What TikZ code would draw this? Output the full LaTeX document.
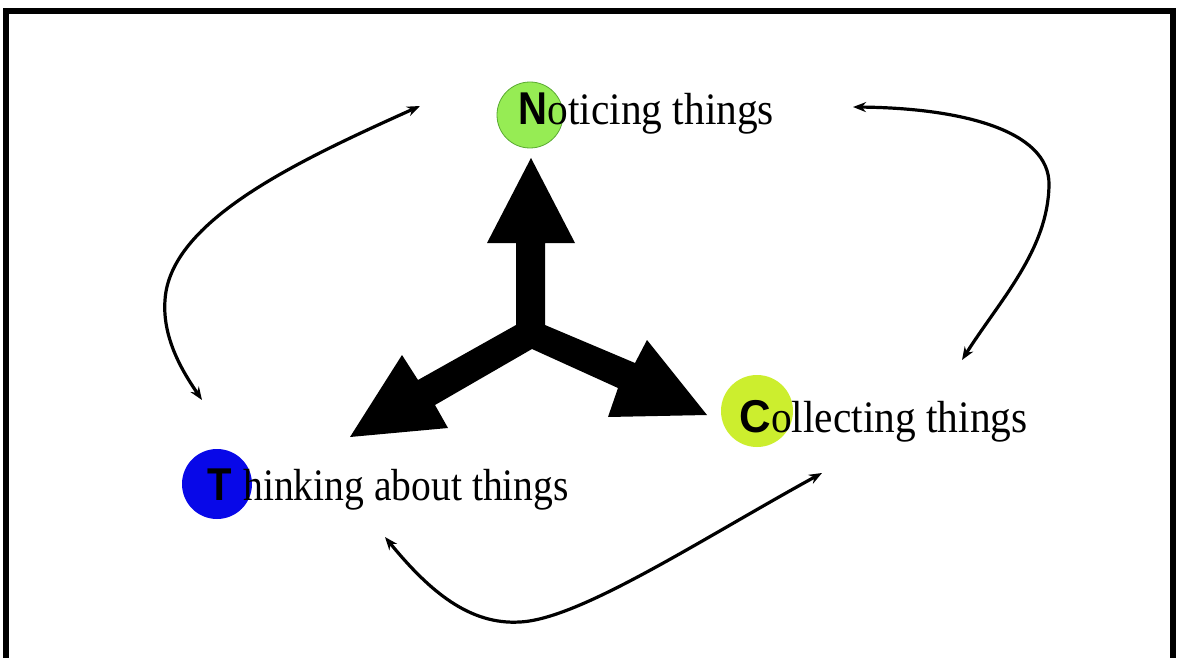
\documentclass[tikz,border=0pt]{standalone}
\usepackage{graphicx}
\usepackage{fontspec}
\setmainfont{Liberation Serif}
\newfontfamily\badgefont{Liberation Sans}
\usetikzlibrary{arrows.meta}
\definecolor{ngreen}{RGB}{150,236,84}
\definecolor{ngreenline}{RGB}{90,170,50}
\definecolor{cgreen}{RGB}{204,238,46}
\definecolor{tblue}{RGB}{8,8,232}
\tikzset{
  badge/.style={circle, inner sep=0pt, minimum size=#1},
  initial/.style={inner sep=0pt, anchor=base west, font=\fontsize{46}{50}\selectfont\badgefont\bfseries},
  words/.style={inner sep=0pt, anchor=base west, font=\fontsize{45}{50}\selectfont},
  loop/.style={line width=3.2pt, {Stealth[length=13pt,width=10pt]}-{Stealth[length=13pt,width=10pt]}}
}
\begin{document}
\begin{tikzpicture}[x=1pt,y=-1pt]
\useasboundingbox (0,0) rectangle (1178,658);
\fill[white] (0,0) rectangle (1178,658);
\draw[line width=6pt] (5.5,662) -- (5.5,11.5) -- (1173,11.5) -- (1173,662);

% badges
\node[badge=66pt, fill=ngreen, draw=ngreenline, line width=0.8pt] (Nc) at (530,115) {};
\node[badge=72pt, fill=cgreen] (Cc) at (757,411) {};
\node[badge=70pt, fill=tblue] (Tc) at (217,484) {};

% labels
\node[initial] (Nl) at (518,125) {\scalebox{0.87}[1]{N}};
\node[words] (Nt) at (Nl.base east) {\scalebox{0.92}[1]{oticing things}};
\node[initial] (Cl) at (739,432) {\scalebox{0.95}[1]{C}};
\node[words] (Ct) at (Cl.base east) {\scalebox{0.92}[1]{ollecting things}};
\node[initial] (Tl) at (207,500) {\scalebox{0.87}[1]{T}};
\node[words] (Tt) at (243,500) {\scalebox{0.88}[1]{hinking about things}};

% central three-way arrow
\fill[black] (531,158) -- (575,243) -- (545,243) -- (545,325) -- (635,363) -- (647,340)
  -- (707,415) -- (608,417) -- (618,388) -- (532,349) -- (435,405) -- (448,428)
  -- (350,437) -- (402,355) -- (418,380) -- (516,325) -- (516,243) -- (487,243) -- cycle;

% cycle connectors
\coordinate (nl) at (420,106);
\coordinate (tl) at (202,400);
\coordinate (nr) at (853,107);
\coordinate (cr) at (962,360);
\coordinate (tb) at (385,537);
\coordinate (cb) at (822,473);
\draw[loop] (nl) .. controls (300,160) and (170,220) .. (165,300)
  .. controls (162,340) and (185,375) .. (tl);
\draw[loop] (nr) .. controls (960,108) and (1050,130) .. (1049,185)
  .. controls (1048,250) and (1000,300) .. (cr);
\draw[loop] (tb) .. controls (430,592) and (470,625) .. (520,622)
  .. controls (580,619) and (700,540) .. (cb);
\end{tikzpicture}
\end{document}
